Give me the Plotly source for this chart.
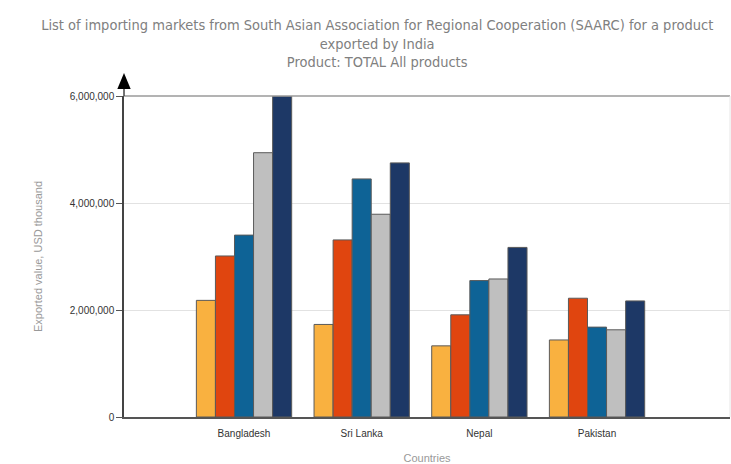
import plotly.graph_objects as go

countries = ["Bangladesh", "Sri Lanka", "Nepal", "Pakistan"]
series_names = ["2016", "2017", "2018", "2019", "2020"]
v2016 = [2180000, 1730000, 1330000, 1440000]
v2017 = [3010000, 3310000, 1910000, 2220000]
v2018 = [3400000, 4450000, 2550000, 1680000]
v2019 = [4940000, 3790000, 2580000, 1630000]
v2020 = [6000000, 4750000, 3170000, 2170000]
values = [v2016, v2017, v2018, v2019, v2020]
colors = ["#F9B140", "#E0450F", "#0E6396", "#BFBFBF", "#1D3866"]
y_ticks = [0, 2000000, 4000000, 6000000]
y_tick_labels = ["0", "2,000,000", "4,000,000", "6,000,000"]

fig = go.Figure()
for name, vals, col in zip(series_names, values, colors):
    fig.add_trace(go.Bar(x=countries, y=vals, name=name, marker=dict(color=col, line=dict(color="#5a5a5a", width=1))))

fig.update_layout(
    width=731, height=464,
    margin=dict(l=124, r=1, t=96, b=47),
    paper_bgcolor="white", plot_bgcolor="white",
    barmode="group", bargap=0.19, bargroupgap=0,
    showlegend=False,
    title=dict(
        text="List of importing markets from South Asian Association for Regional Cooperation (SAARC) for a product<br>exported by India<br>Product: TOTAL All products",
        x=0.516, xanchor="center", y=0.936, yanchor="top",
        font=dict(family="DejaVu Sans Condensed, Liberation Sans Narrow, Arial Narrow, sans-serif", size=14.5, color="#808080"),
    ),
    font=dict(family="Liberation Sans, Arial, sans-serif"),
)
fig.update_xaxes(
    type="category", range=[-1.02, 4.13],
    showline=True, linecolor="#555555", linewidth=1.5,
    showgrid=False, ticks="", ticklabelstandoff=6, tickfont=dict(size=10, color="#333333"),
    title=dict(text="Countries", font=dict(size=11, color="#999999"), standoff=18),
    mirror=False,
)
fig.update_yaxes(
    range=[0, 6000000], tickvals=y_ticks, ticktext=y_tick_labels,
    showline=True, linecolor="#444444", linewidth=1.5,
    showgrid=True, gridcolor="#e2e2e2", gridwidth=1,
    ticks="outside", ticklen=6, tickcolor="#555555",
    tickfont=dict(size=10, color="#333333"),
    title=dict(text="Exported value, USD thousand", font=dict(size=11, color="#999999"), standoff=25),
    zeroline=False,
)
# darker top border line and faint right border
fig.add_shape(type="line", xref="paper", yref="paper", x0=0, x1=1, y0=1, y1=1, line=dict(color="#9a9a9a", width=1.5))
fig.add_shape(type="line", xref="paper", yref="paper", x0=1, x1=1, y0=0, y1=1, line=dict(color="#e6e6e6", width=1))
# arrow at top of y-axis
fig.add_shape(type="line", xref="paper", yref="paper", x0=0, x1=0, y0=1, y1=1.025, line=dict(color="#444444", width=1.5))
fig.add_shape(type="path", xref="paper", yref="paper",
              path="M -0.011 1.022 L 0.011 1.022 L 0 1.072 Z",
              fillcolor="black", line=dict(color="black", width=0))

fig.write_html("out.html")
